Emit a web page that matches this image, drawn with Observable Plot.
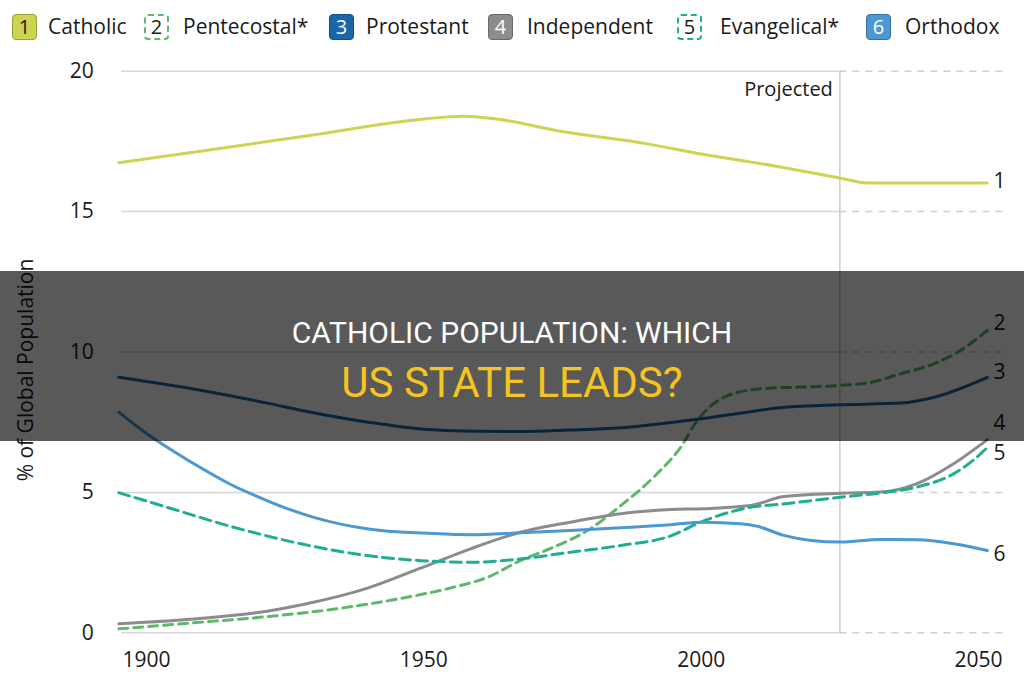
<!DOCTYPE html>
<html>
<head>
<meta charset="utf-8">
<script src="https://cdn.jsdelivr.net/npm/d3@7"></script>
<script src="https://cdn.jsdelivr.net/npm/@observablehq/plot@0.6"></script>
<style>
  html, body { margin: 0; padding: 0; background: #fff; }
  #page { position: relative; width: 1024px; height: 680px; overflow: hidden; font-family: "Open Sans", "Noto Sans", sans-serif; color: #1a1a1a; }
  #legend { position: absolute; left: 0; top: 0; width: 1024px; height: 50px; }
  .key { position: absolute; top: 14px; width: 25px; height: 26px; box-sizing: border-box; border-radius: 4px;
         font-size: 20px; line-height: 24px; text-align: center; }
  .name { position: absolute; top: 11px; font-size: 21px; line-height: 30px; white-space: nowrap; }
  #chart { position: absolute; left: 0; top: 50px; }
  #band { position: absolute; left: 0; top: 271px; width: 1024px; height: 170px; background: rgba(0,0,0,0.65);
          font-family: Roboto, "Liberation Sans", sans-serif; text-align: center; }
  #band .l1 { position: absolute; left: 0; right: 0; top: 44px; font-size: 30px; line-height: 36px; color: #fff; }
  #band .l2 { position: absolute; left: 0; right: 0; top: 87px; font-size: 42px; line-height: 50px; color: #f5c423; }
</style>
</head>
<body>
<div id="page">
  <div id="legend"></div>
  <div id="chart"></div>
  <div id="band"><div class="l1">CATHOLIC POPULATION: WHICH</div><div class="l2">US STATE LEADS?</div></div>
</div>
<script>
// Share of the global population by Christian tradition, [year, percent]
const catholic = [[1895,16.74],[1910,17.16],[1930,17.73],[1950,18.30],[1957,18.40],[1963,18.30],[1975,17.85],[1990,17.42],[2000,17.05],[2014,16.6],[2025,16.2],[2030,16.02],[2040,16.02],[2051.6,16.02]];
const pentecostal = [[1895,0.14],[1910,0.38],[1922,0.58],[1934,0.85],[1942,1.09],[1949.4,1.36],[1955.3,1.62],[1961.5,1.98],[1967.4,2.57],[1973.4,3.05],[1979.5,3.64],[1985.5,4.53],[1991.4,5.54],[1996.3,6.61],[1999.3,7.56],[2005.8,8.52],[2012,8.71],[2017.9,8.75],[2024.9,8.81],[2030.5,8.92],[2035.9,9.22],[2041.9,9.58],[2046.7,10.05],[2051.6,10.77]];
const protestant = [[1895,9.10],[1910,8.63],[1922,8.17],[1928,7.92],[1940,7.50],[1949.4,7.26],[1960,7.18],[1967.4,7.17],[1976,7.22],[1985.5,7.30],[1997.5,7.56],[2000,7.62],[2007,7.82],[2015,8.03],[2025,8.12],[2036,8.18],[2042,8.39],[2051.6,9.10]];
const independent = [[1895,0.32],[1910,0.52],[1922,0.78],[1928,1.0],[1940,1.6],[1949.4,2.3],[1958.4,2.99],[1967.4,3.58],[1976.4,3.94],[1985.5,4.24],[1994.5,4.39],[2000.4,4.42],[2008.9,4.53],[2014.9,4.85],[2025.1,4.97],[2032.3,5.01],[2038.9,5.31],[2045.5,6.02],[2051.6,6.88]];
const evangelical = [[1895,4.99],[1903.7,4.47],[1915.7,3.76],[1927.8,3.17],[1939.8,2.75],[1949.4,2.57],[1958.4,2.51],[1967.4,2.63],[1976.4,2.87],[1985.5,3.11],[1994.5,3.45],[1999.9,3.94],[2008.9,4.47],[2014.9,4.59],[2025.1,4.83],[2032.3,4.98],[2038.9,5.19],[2045.5,5.66],[2049,6.14],[2051.6,6.6]];
const orthodox = [[1895,7.86],[1900,7.1],[1905,6.45],[1910,5.85],[1915,5.3],[1920,4.85],[1925,4.45],[1930,4.12],[1935,3.87],[1940,3.70],[1945,3.6],[1950,3.55],[1958.4,3.49],[1967.4,3.56],[1976.4,3.64],[1985.5,3.74],[1994.5,3.85],[2000.4,3.94],[2007.1,3.88],[2010,3.80],[2014.9,3.47],[2019.8,3.29],[2025.1,3.23],[2032.3,3.32],[2038.9,3.31],[2045.5,3.17],[2051.6,2.93]];

const seriesNames = ["Catholic", "Pentecostal*", "Protestant", "Independent", "Evangelical*", "Orthodox"];
const seriesData = [catholic, pentecostal, protestant, independent, evangelical, orthodox];
const xTicks = [1900, 1950, 2000, 2050];
const yTicks = [0, 5, 10, 15, 20];
const projectionStart = 2025;

// Drawing styles for each series, in legend order
const styles = [
  {color: "#cdd452", dash: null,   keyText: "#1a1a1a", labelDy: -2},
  {color: "#5db86b", dash: "9,6",  keyText: "#1a1a1a", labelDy: -7},
  {color: "#1a66aa", dash: null,   keyText: "#fff",    labelDy: -5},
  {color: "#8c8c8c", dash: null,   keyText: "#fff",    labelDy: -16},
  {color: "#1fae92", dash: "11,6", keyText: "#1a1a1a", labelDy: 6},
  {color: "#4b98d2", dash: null,   keyText: "#fff",    labelDy: 4}
];

// Legend
const keyLeft = [12, 144, 329, 488, 677, 866];
const nameLeft = [48, 183, 366, 527, 720, 905];
const legend = document.getElementById("legend");
seriesNames.forEach((name, i) => {
  const s = styles[i];
  const key = document.createElement("div");
  key.className = "key";
  key.style.left = keyLeft[i] + "px";
  key.textContent = String(i + 1);
  key.style.color = s.keyText;
  if (s.dash) {
    key.style.background = "#fff";
    key.style.border = "2px dashed " + s.color;
    key.style.lineHeight = "22px";
  } else {
    key.style.background = s.color;
    key.style.border = "1px solid " + d3.color(s.color).darker(0.8);
  }
  legend.appendChild(key);
  const label = document.createElement("div");
  label.className = "name";
  label.style.left = nameLeft[i] + "px";
  label.textContent = name;
  legend.appendChild(label);
});

const gridStart = 1895.5, gridEnd = 2055;

const lineMarks = seriesData.map((rows, i) => Plot.line(rows, {
  x: d => d[0], y: d => d[1], stroke: styles[i].color, strokeWidth: 3,
  strokeDasharray: styles[i].dash, curve: "monotone-x"
}));

const endLabels = seriesData.map((rows, i) => Plot.text([rows[rows.length - 1]], {
  x: d => d[0], y: d => d[1], text: () => String(i + 1), textAnchor: "start",
  dx: 6, dy: styles[i].labelDy, fontSize: 21, fill: "#1a1a1a"
}));

const chart = Plot.plot({
  width: 1024,
  height: 630,
  marginTop: 20.7,
  marginBottom: 47.7,
  marginLeft: 118.3,
  marginRight: 37.1,
  x: {domain: [1895, 2051.6]},
  y: {domain: [0, 20]},
  style: {fontFamily: "'Open Sans', 'Noto Sans', sans-serif", fontSize: "21px", color: "#1a1a1a", background: "transparent"},
  marks: [
    Plot.ruleY(yTicks, {x1: gridStart, x2: projectionStart, stroke: "#d6d6d6", strokeWidth: 1.5}),
    Plot.ruleY(yTicks, {x1: projectionStart, x2: gridEnd, stroke: "#cfcfcf", strokeWidth: 1.5, strokeDasharray: "7,6"}),
    Plot.ruleX([projectionStart], {y1: 0, y2: 20, stroke: "#cccccc", strokeWidth: 1.5}),
    Plot.text(["Projected"], {x: projectionStart, y: 20, dx: -7, dy: 18, textAnchor: "end", fontSize: 20, fill: "#1a1a1a"}),
    Plot.axisX(xTicks, {tickSize: 0, tickPadding: 19, tickFormat: d => String(d), fontSize: 21, label: null}),
    Plot.axisY(yTicks, {tickSize: 0, tickPadding: 25, fontSize: 21, label: null}),
    Plot.text(["% of Global Population"], {frameAnchor: "left", textAnchor: "middle", dx: -93, dy: 18, rotate: -90, fontSize: 21, fill: "#1a1a1a"}),
    ...lineMarks,
    ...endLabels
  ]
});
document.getElementById("chart").appendChild(chart);
</script>
</body>
</html>
